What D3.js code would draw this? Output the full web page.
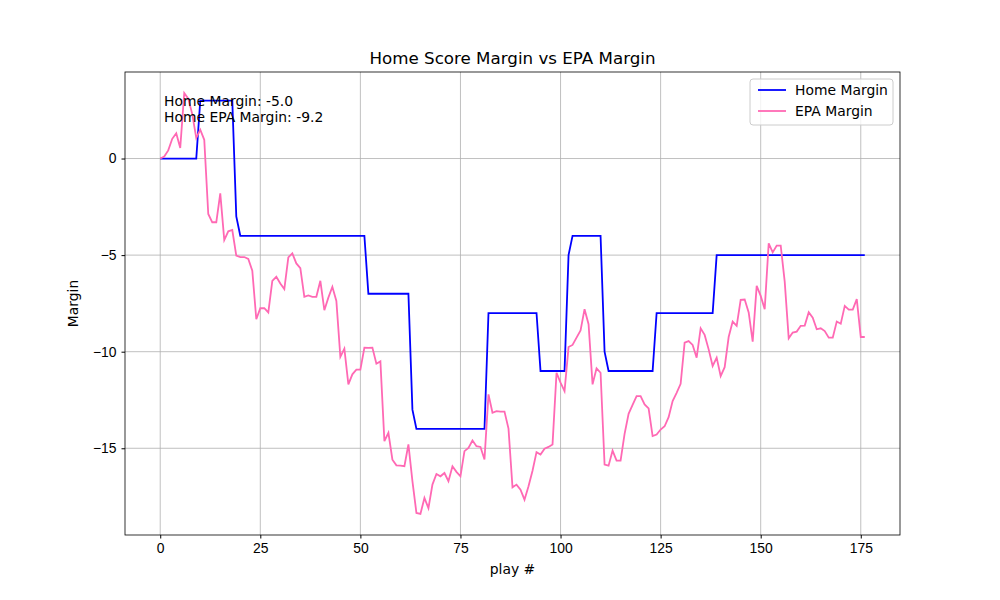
<html>
<head>
<script src="https://d3js.org/d3.v7.min.js"></script>
<style>
  body { margin: 0; background: white; font-family: "DejaVu Sans", sans-serif; }
  .grid line { stroke: #b0b0b0; stroke-width: 0.8px; }
  .axis text { font-size: 13.9px; fill: black; }
  .axis path, .axis line { stroke: black; }
</style>
</head>
<body>
<div id="chart"></div>
<script>
// home score margin by play (step changes)
var homeSteps = [[0, 0], [10, 3], [19, -3], [20, -4], [52, -7], [63, -13], [64, -14], [82, -8],
                 [95, -11], [102, -5], [103, -4], [111, -10], [112, -11], [124, -8], [139, -5]];
var epaMargin = [
  0, 0.1, 0.42, 1.02, 1.31, 0.55, 3.39, 3.1, 2.3, 1.07,
  1.49, 0.97, -2.87, -3.3, -3.3, -1.8, -4.22, -3.77, -3.7, -5.03,
  -5.1, -5.1, -5.2, -5.81, -8.32, -7.75, -7.75, -7.97, -6.33, -6.12,
  -6.47, -6.76, -5.12, -4.91, -5.43, -5.67, -7.16, -7.09, -7.16, -7.16,
  -6.33, -7.85, -7.2, -6.64, -7.37, -10.27, -9.84, -11.69, -11.17, -10.93,
  -10.93, -9.79, -9.8, -9.79, -10.62, -10.5, -14.63, -14.2, -15.59, -15.88,
  -15.9, -15.93, -14.8, -16.7, -18.35, -18.4, -17.57, -18.1, -16.88, -16.33,
  -16.45, -16.28, -16.7, -15.93, -16.22, -16.45, -15.15, -14.98, -14.6, -14.89,
  -14.93, -15.58, -12.21, -13.16, -13.08, -13.1, -13.1, -13.98, -17.02, -16.88,
  -17.14, -17.66, -16.97, -16.16, -15.2, -15.32, -15.02, -14.93, -14.8, -11.09,
  -11.6, -12.04, -9.76, -9.65, -9.27, -8.9, -7.8, -8.58, -11.69, -10.86,
  -11.09, -15.84, -15.9, -15.12, -15.64, -15.64, -14.25, -13.22, -12.75, -12.3,
  -12.3, -12.73, -12.94, -14.37, -14.29, -14.03, -13.86, -13.39, -12.56, -12.13,
  -11.66, -9.53, -9.45, -9.65, -10.31, -8.79, -9.13, -9.88, -10.74, -10.31,
  -11.26, -10.8, -9.24, -8.44, -8.66, -7.32, -7.3, -7.97, -9.48, -6.59,
  -7.11, -7.8, -4.39, -4.86, -4.51, -4.51, -6.37, -9.31, -9.01, -8.96,
  -8.66, -8.65, -7.96, -8.24, -8.84, -8.79, -8.93, -9.27, -9.27, -8.44,
  -8.55, -7.63, -7.82, -7.82, -7.28, -9.24, -9.24
];
var xTicks = [0, 25, 50, 75, 100, 125, 150, 175];
var yTicks = [-15, -10, -5, 0];

var homeMargin = epaMargin.map(function (d, i) {
    var v = 0;
    homeSteps.forEach(function (s) { if (i >= s[0]) v = s[1]; });
    return v;
});

var W = 1000, H = 600;
var margin = {top: 72, right: 100, bottom: 65, left: 125};
var w = W - margin.left - margin.right, h = H - margin.top - margin.bottom;

var n = epaMargin.length - 1;
var x = d3.scaleLinear().domain([-0.05 * n, n * 1.05]).range([0, w]);
var lo = d3.min(epaMargin), hi = d3.max(epaMargin.concat(homeMargin));
var pad = (hi - lo) * 0.05;
var y = d3.scaleLinear().domain([lo - pad, hi + pad]).range([h, 0]);

var svg = d3.select("#chart").append("svg").attr("width", W).attr("height", H);
var g = svg.append("g").attr("transform", "translate(" + margin.left + "," + margin.top + ")");

// grid
g.append("g").attr("class", "grid").selectAll("line.v").data(xTicks).join("line")
    .attr("x1", function (d) { return x(d); }).attr("x2", function (d) { return x(d); })
    .attr("y1", 0).attr("y2", h);
g.append("g").attr("class", "grid").selectAll("line.h").data(yTicks).join("line")
    .attr("y1", function (d) { return y(d); }).attr("y2", function (d) { return y(d); })
    .attr("x1", 0).attr("x2", w);

var line = d3.line()
    .x(function (d, i) { return x(i); })
    .y(function (d) { return y(d); });

g.append("path").datum(homeMargin).attr("d", line)
    .attr("fill", "none").attr("stroke", "#0000ff").attr("stroke-width", 1.8);
g.append("path").datum(epaMargin).attr("d", line)
    .attr("fill", "none").attr("stroke", "#ff69b4").attr("stroke-width", 1.8);

g.append("rect").attr("width", w).attr("height", h)
    .attr("fill", "none").attr("stroke", "black").attr("stroke-width", 0.8);

g.append("g").attr("class", "axis").attr("transform", "translate(0," + h + ")")
    .call(d3.axisBottom(x).tickValues(xTicks).tickSize(3.5).tickPadding(5).tickSizeOuter(0))
    .call(function (a) { a.select(".domain").remove(); });
g.append("g").attr("class", "axis")
    .call(d3.axisLeft(y).tickValues(yTicks).tickSize(3.5).tickPadding(5)
        .tickFormat(function (d) { return d < 0 ? "\u2212" + (-d) : d; }))
    .call(function (a) { a.select(".domain").remove(); });

// labels
svg.append("text").attr("x", margin.left + w / 2).attr("y", 64).attr("text-anchor", "middle")
    .style("font-size", "16.7px").text("Home Score Margin vs EPA Margin");
svg.append("text").attr("x", margin.left + w / 2).attr("y", 574).attr("text-anchor", "middle")
    .style("font-size", "13.9px").text("play #");
svg.append("text").attr("transform", "translate(78," + (margin.top + h / 2) + ") rotate(-90)")
    .attr("text-anchor", "middle").style("font-size", "13.9px").text("Margin");

// annotation
var last = epaMargin.length - 1;
svg.append("text").attr("x", 164).attr("y", 106).style("font-size", "13.9px")
    .text("Home Margin: " + homeMargin[last].toFixed(1));
svg.append("text").attr("x", 164).attr("y", 122).style("font-size", "13.9px")
    .text("Home EPA Margin: " + epaMargin[last].toFixed(1));

// legend
var lg = svg.append("g").attr("transform", "translate(750,79)");
lg.append("rect").attr("width", 143).attr("height", 46).attr("rx", 3)
    .attr("fill", "white").attr("fill-opacity", 0.8).attr("stroke", "#cccccc");
[["Home Margin", "#0000ff"], ["EPA Margin", "#ff69b4"]].forEach(function (d, i) {
    var yy = 11 + i * 21;
    lg.append("line").attr("x1", 8).attr("x2", 36).attr("y1", yy).attr("y2", yy)
        .attr("stroke", d[1]).attr("stroke-width", 1.8);
    lg.append("text").attr("x", 45).attr("y", yy + 5).style("font-size", "13.9px").text(d[0]);
});
</script>
</body>
</html>
